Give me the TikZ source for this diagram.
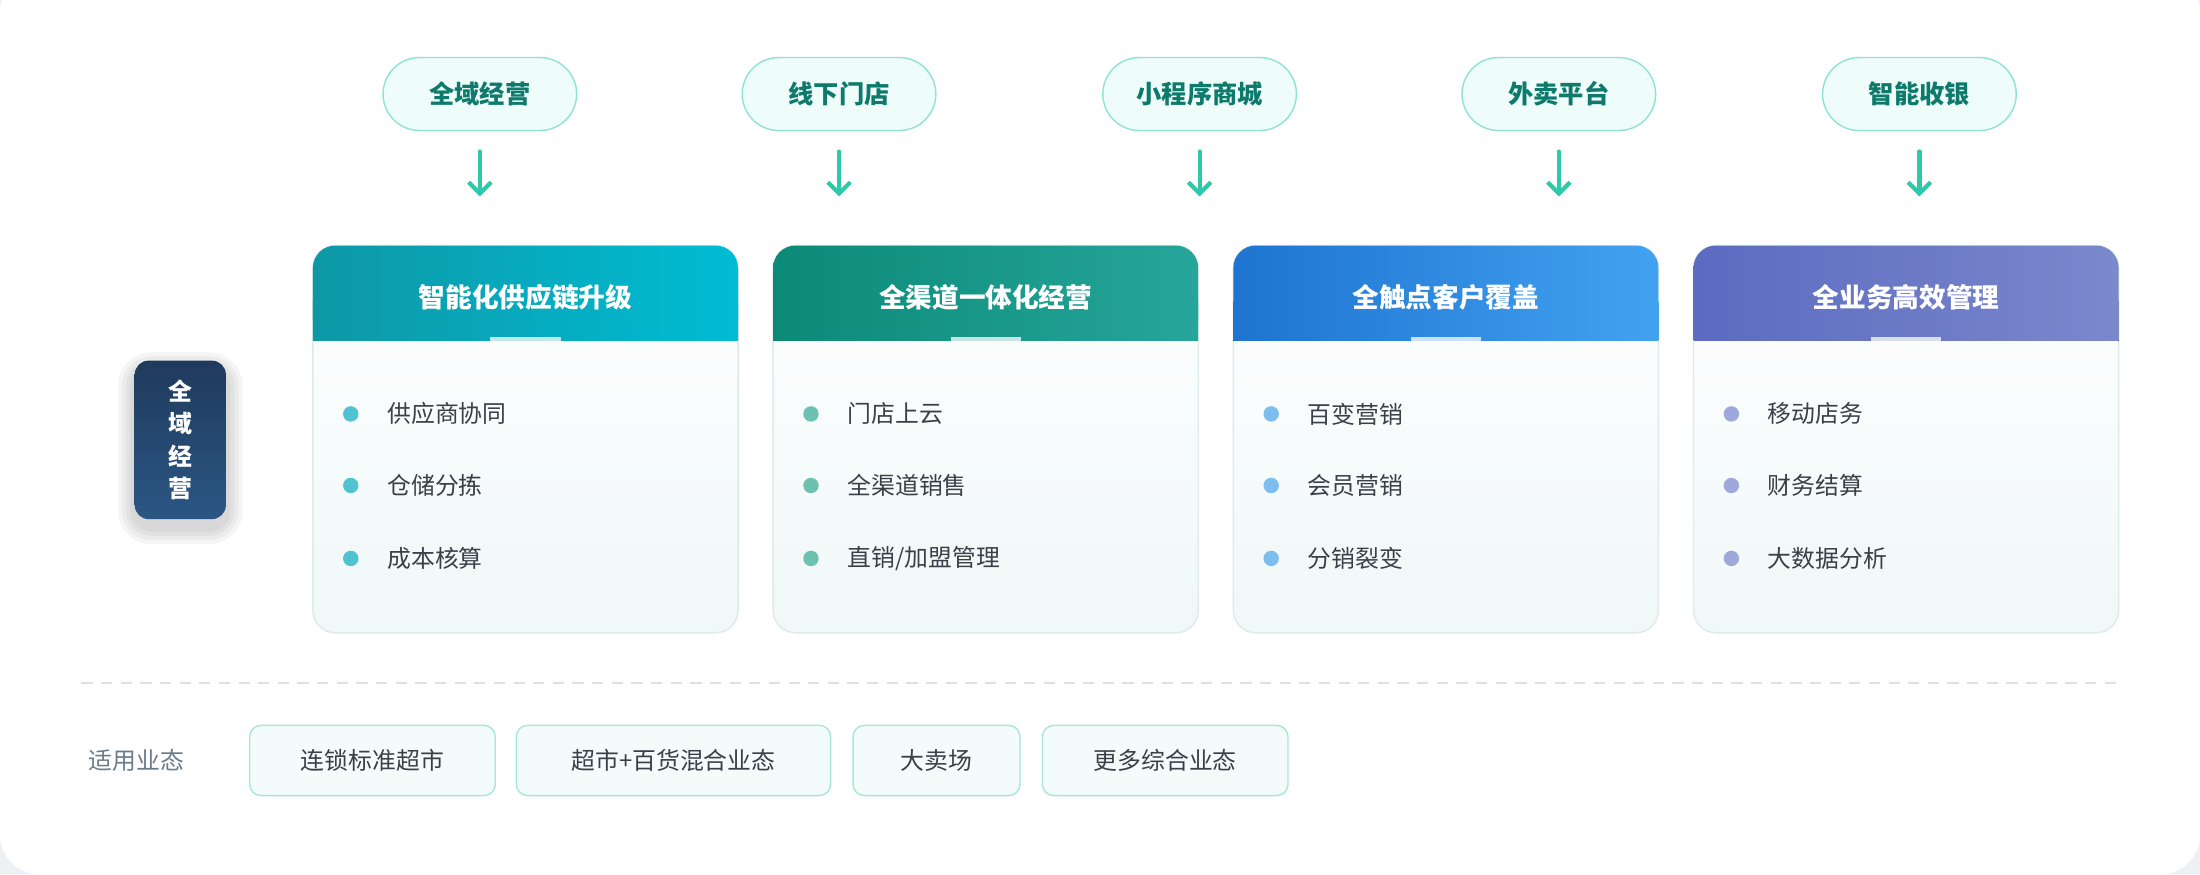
\documentclass[tikz,border=0pt]{standalone}
\usepackage{fontspec}
\setmainfont{Noto Sans CJK SC}
\usetikzlibrary{arrows.meta}
\definecolor{bgc}{HTML}{EEF1F4}
\definecolor{pillf}{HTML}{EEFCFA}
\definecolor{pilld}{HTML}{8EE3D2}
\definecolor{pillt}{HTML}{0E7A6B}
\definecolor{arr}{HTML}{2EC9A8}
\definecolor{cardd}{HTML}{DDEBEA}
\definecolor{txt}{HTML}{3A4048}
\definecolor{tagf}{HTML}{F4FCFB}
\definecolor{tagd}{HTML}{A8E6DA}
\definecolor{laba}{HTML}{1F3A5C}\definecolor{labb}{HTML}{2B5784}
\definecolor{sytxt}{HTML}{6B7B8C}
\definecolor{ha1}{HTML}{0E98A6}\definecolor{hb1}{HTML}{00BCD4}
\definecolor{ha2}{HTML}{0B8A78}\definecolor{hb2}{HTML}{26A69A}
\definecolor{ha3}{HTML}{1E74D0}\definecolor{hb3}{HTML}{42A2F0}
\definecolor{ha4}{HTML}{5C6BC0}\definecolor{hb4}{HTML}{7A88CC}
\definecolor{bu1}{HTML}{4FC3D0}\definecolor{bu2}{HTML}{6CC1B0}
\definecolor{bu3}{HTML}{7DBEF0}\definecolor{bu4}{HTML}{9FA8DA}
\tikzset{
 pill/.style={draw=pilld,fill=pillf,rounded corners=13pt,minimum width=69pt,minimum height=26pt,text=pillt,font=\fontsize{9}{10}\selectfont\bfseries,line width=0.5pt},
 arrw/.style={draw=arr,line width=1.5pt,-{Straight Barb[length=4pt,width=8pt]},line cap=round},
 item/.style={anchor=west,text=txt,font=\fontsize{8.5}{10}\selectfont},
 tag/.style={draw=tagd,fill=tagf,rounded corners=4pt,minimum height=25pt,text=txt,font=\fontsize{8.5}{10}\selectfont,line width=0.5pt},
 htxt/.style={text=white,font=\fontsize{9.5}{11}\selectfont\bfseries}
}
\begin{document}
\begin{tikzpicture}[x=0.5pt,y=-0.5pt]
\useasboundingbox (0,0) rectangle (1568,623);
\fill[bgc] (0,0) rectangle (1568,623);
\fill[white,rounded corners=14pt] (0,-20) rectangle (1568,623);
\foreach \x/\t/\n in {342/全域经营/p1,598/线下门店/p2,855/小程序商城/p3,1111/外卖平台/p4,1368/智能收银/p5}{
 \node[pill] (\n) at (\x,67) {\t};
 \coordinate (\n a) at (\x,108);
 \coordinate (\n b) at (\x,140);
 \draw[arrw] (\n a) -- (\n b);
}
\foreach \i/\x/\t/\a/\b/\c in {1/223/智能化供应链升级/供应商协同/仓储分拣/成本核算,2/551/全渠道一体化经营/门店上云/全渠道销售/{直销/加盟管理},3/879/全触点客户覆盖/百变营销/会员营销/分销裂变,4/1207/全业务高效管理/移动店务/财务结算/大数据分析}{
 \fill[top color=white,bottom color=black!3!white!97!cyan,draw=cardd,line width=0.5pt,rounded corners=8pt] (\x,175) rectangle ++(303,276);
 \shade[left color=ha\i,right color=hb\i,rounded corners=8pt] (\x,175) rectangle ++(303,68);
 \fill[left color=ha\i,right color=hb\i] (\x,215) rectangle ++(303,28);
 \node[htxt] (h\i) at (\x+151.5,212) {\t};
 \fill[white,opacity=0.75] (\x+126.5,240) rectangle ++(50,3);
 \foreach \y/\s in {295/\a,346/\b,398/\c}{
  \fill[bu\i] (\x+27,\y) circle (5.5);
  \node[item] at (\x+46,\y) {\s};
 }
}
\foreach \r in {12,9,6,3}{
 \fill[black,opacity=0.04,rounded corners=6pt+\r*0.5pt] (96-\r,263-\r) rectangle (161+\r,376+\r);
}
\node[minimum width=32.5pt,minimum height=56.5pt,rounded corners=5pt,top color=laba,bottom color=labb,text=white,font=\fontsize{8.5}{11.5}\selectfont\bfseries,align=center] (lab) at (128.5,313.5) {全\\域\\经\\营};
\coordinate (d1) at (58,487); \coordinate (d2) at (1510,487);
\draw[black!12,line width=0.6pt,dash pattern=on 4pt off 3pt] (d1) -- (d2);
\node[anchor=west,text=sytxt,font=\fontsize{8.5}{10}\selectfont] (sy) at (56,542) {适用业态};
\node[tag,minimum width=87.5pt] (t1) at (265.5,542) {连锁标准超市};
\node[tag,minimum width=112pt] (t2) at (480,542) {超市+百货混合业态};
\node[tag,minimum width=59.5pt] (t3) at (667.5,542) {大卖场};
\node[tag,minimum width=87.5pt] (t4) at (830.5,542) {更多综合业态};
\end{tikzpicture}
\end{document}
